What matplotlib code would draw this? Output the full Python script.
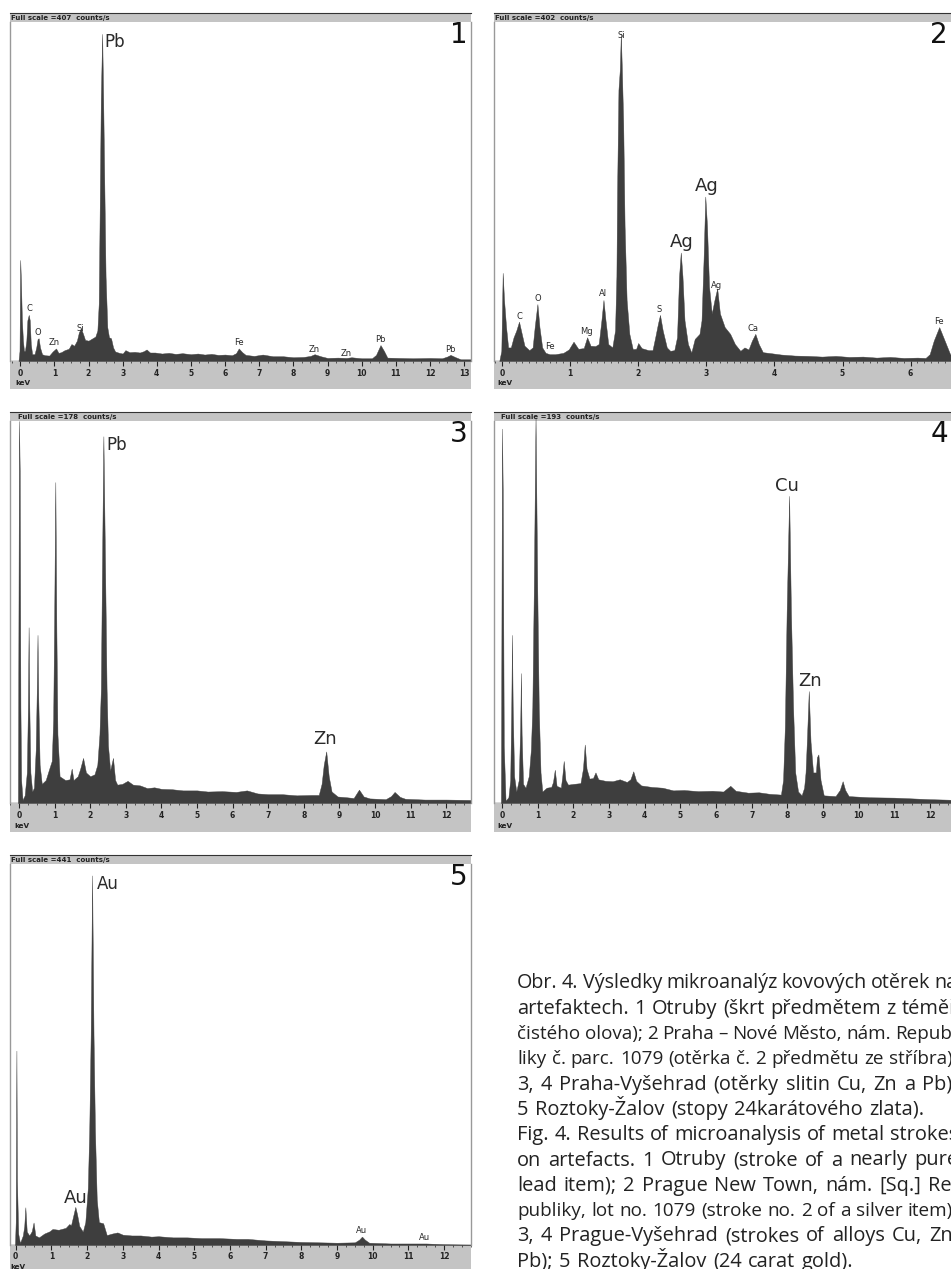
import matplotlib
matplotlib.use("Agg")
import matplotlib.pyplot as plt
from matplotlib.ticker import MultipleLocator

W, H = 951, 1269
DARK = "#3e3e3e"
STRIP = "#c4c4c4"

# spectra: (energy in keV, height in % of full scale)
kev1, pct1 = zip(*[
    (-0.05, 0), (-0.02, 3), (0.0, 29.8), (0.02, 24), (0.05, 12), (0.08, 6), (0.11, 3), (0.14, 3), (0.18, 6), (0.21, 12),
    (0.25, 13.6), (0.28, 12), (0.31, 5), (0.35, 2), (0.42, 2), (0.47, 4), (0.51, 6.5), (0.54, 6.7), (0.58, 4), (0.64, 2),
    (0.72, 1.7), (0.85, 1.6), (0.95, 2.8), (1.05, 3.7), (1.12, 2.4), (1.2, 2.6), (1.3, 3.2), (1.42, 3.6), (1.5, 5), (1.58, 4.5),
    (1.66, 6), (1.72, 8.5), (1.78, 9.6), (1.84, 8), (1.9, 6.2), (2.0, 6), (2.1, 6.6), (2.2, 7.2), (2.26, 9), (2.3, 17),
    (2.33, 47), (2.36, 77), (2.40, 96.5), (2.43, 77), (2.47, 47), (2.5, 25), (2.55, 10), (2.6, 7), (2.66, 6.7), (2.72, 4),
    (2.78, 2.8), (2.9, 2.4), (3.0, 2.2), (3.08, 3.2), (3.2, 2.6), (3.35, 2.7), (3.5, 2.5), (3.62, 2.9), (3.7, 3.4), (3.8, 2.5),
    (3.95, 2.5), (4.15, 2.2), (4.35, 2.4), (4.55, 2.1), (4.75, 2.3), (5.0, 2.0), (5.2, 2.2), (5.4, 1.9), (5.6, 2.1), (5.8, 1.8),
    (6.0, 1.9), (6.2, 1.7), (6.32, 2.3), (6.4, 3.7), (6.5, 2.6), (6.6, 1.8), (6.85, 1.5), (7.1, 1.9), (7.4, 1.4), (7.7, 1.4),
    (8.0, 1.1), (8.3, 1.2), (8.5, 1.5), (8.62, 2), (8.8, 1.4), (9.0, 0.9), (9.3, 1.0), (9.55, 0.9), (9.7, 1.1), (10.0, 0.8),
    (10.3, 0.8), (10.42, 1.8), (10.55, 4.7), (10.65, 3), (10.75, 1), (11.1, 0.9), (11.5, 0.8), (12.0, 0.9), (12.35, 0.8), (12.5, 1.3),
    (12.6, 1.8), (12.75, 1.1), (12.9, 0.5), (13.2, 0.5),
])

kev2, pct2 = zip(*[
    (-0.04, 0), (-0.01, 3), (0.01, 26), (0.03, 18), (0.06, 10), (0.09, 4), (0.13, 4), (0.17, 7), (0.21, 9), (0.25, 11.6),
    (0.29, 8), (0.33, 4.5), (0.4, 3.2), (0.45, 4), (0.48, 10), (0.52, 16.8), (0.55, 10), (0.59, 4), (0.64, 2.4), (0.7, 2),
    (0.78, 2), (0.9, 2.4), (0.98, 3.4), (1.05, 5.7), (1.12, 3.6), (1.2, 3.8), (1.25, 7), (1.3, 4.5), (1.37, 4.4), (1.42, 5),
    (1.46, 12), (1.49, 18), (1.52, 12), (1.56, 5), (1.62, 4), (1.66, 9), (1.68, 25), (1.69, 50), (1.71, 80), (1.73, 86),
    (1.745, 96.6), (1.76, 86), (1.78, 70), (1.8, 40), (1.83, 18), (1.87, 8), (1.92, 3.5), (1.97, 3.6), (2.0, 5.3), (2.05, 3.8),
    (2.15, 3.2), (2.21, 3.2), (2.25, 7), (2.29, 11), (2.32, 13.6), (2.36, 9), (2.42, 4), (2.47, 3), (2.53, 3.2), (2.57, 7),
    (2.6, 25), (2.625, 32), (2.65, 25), (2.68, 12), (2.73, 5), (2.78, 2.5), (2.83, 6.5), (2.9, 8), (2.93, 12), (2.96, 30),
    (2.985, 48.5), (3.01, 40), (3.04, 22), (3.08, 14), (3.12, 18), (3.16, 21.4), (3.2, 14), (3.27, 10), (3.35, 8), (3.42, 5),
    (3.5, 3), (3.56, 4), (3.62, 3.4), (3.67, 6), (3.72, 8), (3.77, 5), (3.83, 2.6), (3.95, 2.3), (4.1, 1.9), (4.3, 1.6),
    (4.5, 1.5), (4.7, 1.3), (4.9, 1.5), (5.1, 1.2), (5.3, 1.3), (5.5, 1.0), (5.7, 1.2), (5.9, 0.9), (6.1, 1.0), (6.22, 0.9),
    (6.28, 2), (6.34, 6), (6.42, 10), (6.5, 6), (6.58, 2), (6.7, 1), (7.0, 0.5),
])

kev3, pct3 = zip(*[
    (-0.03, 0), (0.0, 100), (0.02, 87), (0.04, 25), (0.06, 6), (0.1, 0.8), (0.16, 2), (0.22, 8), (0.25, 25), (0.27, 46),
    (0.29, 25), (0.32, 8), (0.37, 3), (0.42, 4), (0.47, 14), (0.5, 30), (0.52, 44), (0.54, 28), (0.58, 10), (0.64, 5),
    (0.75, 6), (0.85, 9), (0.92, 11), (0.96, 22), (0.99, 50), (1.02, 84), (1.05, 45), (1.08, 18), (1.14, 7), (1.3, 6),
    (1.42, 6.2), (1.48, 9), (1.53, 6), (1.65, 7), (1.72, 9), (1.8, 11.8), (1.88, 8), (2.0, 7), (2.12, 7.5), (2.2, 10),
    (2.26, 18), (2.3, 30), (2.33, 60), (2.37, 96), (2.42, 60), (2.46, 30), (2.5, 15), (2.56, 8.5), (2.64, 11.8), (2.7, 6),
    (2.76, 4.8), (2.9, 5), (3.05, 5.8), (3.2, 4.8), (3.4, 4.6), (3.6, 3.9), (3.8, 4.1), (4.0, 3.7), (4.3, 3.6), (4.6, 3.3),
    (5.0, 3.3), (5.3, 3.0), (5.7, 3.1), (6.1, 2.9), (6.4, 3.3), (6.7, 2.5), (7.0, 2.3), (7.4, 2.3), (7.8, 2), (8.2, 2.1),
    (8.42, 2.1), (8.5, 5), (8.56, 10), (8.63, 13.5), (8.7, 7), (8.78, 3), (8.95, 1.7), (9.2, 1.5), (9.4, 1.3), (9.55, 3.5),
    (9.68, 1.7), (9.85, 1.2), (10.3, 1), (10.45, 1.8), (10.55, 2.9), (10.7, 1.6), (10.85, 1.1), (11.4, 0.9), (12.0, 0.9), (12.7, 0.8),
])

kev4, pct4 = zip(*[
    (-0.03, 0), (0.0, 98), (0.02, 82), (0.05, 15), (0.1, 0.6), (0.18, 1.5), (0.23, 6), (0.26, 25), (0.28, 44), (0.3, 25),
    (0.34, 7), (0.4, 3), (0.47, 6), (0.51, 20), (0.53, 34), (0.55, 18), (0.59, 5), (0.66, 4), (0.75, 7), (0.81, 14),
    (0.85, 25), (0.89, 55), (0.94, 101), (0.99, 55), (1.03, 25), (1.08, 8), (1.13, 3), (1.25, 4), (1.38, 4.2), (1.43, 5.5),
    (1.48, 8.7), (1.53, 4.5), (1.65, 4), (1.69, 7), (1.73, 11), (1.78, 6), (1.85, 4.8), (2.0, 5), (2.2, 5.2), (2.27, 9),
    (2.32, 15.3), (2.37, 9), (2.45, 6.4), (2.55, 6.5), (2.62, 8), (2.7, 6.2), (2.9, 5.8), (3.1, 5.7), (3.3, 6.2), (3.5, 5.5),
    (3.6, 6.2), (3.68, 8.3), (3.76, 5.8), (3.9, 4.6), (4.2, 4.2), (4.5, 4), (4.8, 3.3), (5.1, 3.4), (5.5, 3.1), (5.9, 3.2),
    (6.2, 3), (6.4, 4.5), (6.55, 3.2), (6.9, 2.7), (7.2, 2.8), (7.5, 2.4), (7.82, 2.2), (7.88, 6), (7.93, 20), (7.98, 50),
    (8.05, 80.4), (8.1, 50), (8.16, 25), (8.22, 8), (8.3, 3), (8.4, 2), (8.47, 4), (8.51, 8), (8.55, 17), (8.6, 29.3),
    (8.65, 16), (8.72, 8), (8.8, 8), (8.83, 12), (8.87, 12.7), (8.93, 6), (9.02, 2), (9.35, 1.8), (9.47, 3.4), (9.55, 5.7),
    (9.62, 3.4), (9.72, 1.8), (10.3, 1.5), (11.0, 1.4), (12.0, 1), (12.8, 0.8),
])

kev5, pct5 = zip(*[
    (-0.02, 0), (0.0, 6), (0.02, 51), (0.035, 17), (0.07, 3), (0.12, 0.5), (0.2, 2.5), (0.24, 5), (0.27, 9.9), (0.31, 3.5),
    (0.38, 2.5), (0.45, 3.6), (0.5, 5.9), (0.55, 2.5), (0.65, 2), (0.8, 3), (0.95, 3.6), (1.03, 4.2), (1.2, 4), (1.4, 4.5),
    (1.5, 5.5), (1.55, 5.2), (1.62, 8), (1.67, 10), (1.72, 8), (1.78, 5), (1.88, 3.5), (1.95, 6), (2.02, 15), (2.06, 30),
    (2.1, 55), (2.14, 97), (2.18, 55), (2.22, 30), (2.27, 12), (2.33, 6), (2.45, 5.7), (2.55, 2.6), (2.7, 3), (2.85, 3.3),
    (3.0, 2.7), (3.25, 2.5), (3.5, 2.5), (3.8, 2.2), (4.0, 2.3), (4.4, 2.0), (4.8, 2.0), (5.2, 1.8), (5.7, 1.8), (6.2, 1.6),
    (6.5, 1.6), (7.0, 1.2), (7.5, 1.0), (8.0, 0.8), (8.5, 0.7), (9.0, 0.6), (9.5, 0.7), (9.62, 1.4), (9.7, 2.2), (9.78, 1.4),
    (9.9, 0.6), (10.5, 0.4), (11.5, 0.4), (12.0, 0.2), (12.75, 0.1),
])

# element labels: text, keV, % height, size
labels1 = [("Pb", 2.46, 96.8, 12), ("C", 0.27, 14.2, 6), ("O", 0.53, 7.2, 6), ("Zn", 1.0, 4, 6), ("Si", 1.76, 8.2, 6),
           ("Fe", 6.4, 4, 6), ("Zn", 8.6, 2.2, 6), ("Zn", 9.55, 1, 6), ("Pb", 10.55, 5.1, 6), ("Pb", 12.6, 2, 6)]
labels2 = [("Si", 1.75, 94.8, 6), ("Ag", 3.0, 49, 13), ("Ag", 2.64, 32.5, 13), ("Ag", 3.15, 21, 6), ("O", 0.52, 17, 6),
           ("C", 0.26, 11.8, 6), ("Al", 1.48, 18.6, 6), ("Mg", 1.24, 7.4, 6), ("Fe", 0.7, 3, 6), ("S", 2.31, 13.8, 6),
           ("Ca", 3.68, 8.4, 6), ("Fe", 6.42, 10.4, 6)]
labels3 = [("Pb", 2.46, 96, 12), ("Zn", 8.6, 14.5, 13)]
labels4 = [("Cu", 8.0, 80.5, 13), ("Zn", 8.65, 29.5, 13)]
labels5 = [("Au", 2.27, 97, 12), ("Au", 1.68, 10, 13), ("Au", 9.7, 2.5, 6), ("Au", 11.45, 0.8, 6)]

caption = [
    "Obr. 4. Výsledky mikroanalýz kovových otěrek na",
    "artefaktech. 1 Otruby (škrt předmětem z téměř",
    "čistého olova); 2 Praha – Nové Město, nám. Repub-",
    "liky č. parc. 1079 (otěrka č. 2 předmětu ze stříbra);",
    "3, 4 Praha-Vyšehrad (otěrky slitin Cu, Zn a Pb);",
    "5 Roztoky-Žalov (stopy 24karátového zlata).",
    "Fig. 4. Results of microanalysis of metal strokes",
    "on artefacts. 1 Otruby (stroke of a nearly pure",
    "lead item); 2 Prague New Town, nám. [Sq.] Re-",
    "publiky, lot no. 1079 (stroke no. 2 of a silver item);",
    "3, 4 Prague-Vyšehrad (strokes of alloys Cu, Zn,",
    "Pb); 5 Roztoky-Žalov (24 carat gold).",
]
# the set is condensed on some lines and loose on the others
caption_sizes = [14.2, 14.4, 13.6, 13.6, 14.4, 14.4, 14.4, 14.4, 14.4, 13.6, 14.4, 14.4]
# lines that end a paragraph are set with plain word spaces
last_lines = [5, 11]

fig = plt.figure(figsize=(W / 100, H / 100), dpi=100, facecolor="white")
plt.rcParams["font.family"] = "DejaVu Sans"


def ax_px(x0, y0, x1, y1):
    return fig.add_axes([x0 / W, 1 - y1 / H, (x1 - x0) / W, (y1 - y0) / H])


def panel(box, zero, per_kev, kev, pct, labels, title, title_x, num, max_tick, minor=0.25):
    x0, y_top, y_base, x1, y_bottom = box
    xlim = ((x0 - zero) / per_kev, (x1 - zero) / per_kev)

    # title bar
    bar = ax_px(x0, y_top, x1, y_top + 9)
    bar.set_facecolor(STRIP)
    bar.set_xticks([])
    bar.set_yticks([])
    for s in bar.spines.values():
        s.set_visible(False)
    bar.spines["top"].set_visible(True)
    bar.spines["top"].set_color("#333333")
    bar.text(title_x, 0.48, title, transform=bar.transAxes, fontsize=5, fontweight="bold",
             color="#222222", va="center", ha="left")

    # gray strip under the spectrum
    strip = ax_px(x0, y_base, x1, y_bottom)
    strip.set_facecolor(STRIP)
    strip.set_xlim(xlim)
    strip.set_yticks([])
    strip.xaxis.set_ticks_position("top")
    strip.xaxis.set_major_locator(MultipleLocator(1))
    strip.xaxis.set_minor_locator(MultipleLocator(minor))
    strip.tick_params(axis="x", which="major", direction="in", length=3.5, width=0.8, color="#222222",
                      labeltop=False, labelbottom=False)
    strip.tick_params(axis="x", which="minor", direction="in", length=1.5, width=0.5, color="#222222")
    for s in strip.spines.values():
        s.set_visible(False)
    for t in range(0, max_tick + 1):
        strip.text(t, 0.56, str(t), transform=strip.get_xaxis_transform(), fontsize=5.5, fontweight="bold",
                   color="#222222", ha="center", va="center", clip_on=True)
    strip.text((zero - x0 - 5) / (x1 - x0), 0.2, "keV", transform=strip.transAxes, fontsize=5.2,
               fontweight="bold", color="#222222", ha="left", va="center")

    # spectrum
    ax = ax_px(x0, y_top + 9, x1, y_base)
    ax.set_xlim(xlim)
    ax.set_ylim(0, 100)
    ax.set_xticks([])
    ax.set_yticks([])
    ax.patch.set_alpha(0)
    ax.fill_between(kev, 0, pct, color=DARK, lw=0.3, clip_on=False)
    ax.axhline(0, color=DARK, lw=1)
    for s in ax.spines.values():
        s.set_color("#999999")
        s.set_linewidth(1)
    ax.spines["top"].set_visible(False)
    ax.spines["bottom"].set_visible(False)
    for name, x, y, size in labels:
        ax.text(x, y, name, fontsize=size, color="#2a2a2a",
                ha="left" if size == 12 else "center", va="top" if size == 12 else "bottom")
    fig.text((min(x1, W) - 3) / W, 1 - (y_top + 22) / H, num, fontsize=20, color="#111111", ha="right", va="center")


panel((10, 13, 361, 471, 389), 20.2, 34.15, kev1, pct1, labels1, "Full scale =407  counts/s", 0.003, "1", 13)
panel((494, 13, 361, 960, 389), 502, 68.1, kev2, pct2, labels2, "Full scale =402  counts/s", 0.003, "2", 6, minor=0.1)
panel((10, 412, 803, 471, 832), 19, 35.6, kev3, pct3, labels3, "Full scale =178  counts/s", 0.018, "3", 12)
panel((494, 412, 803, 960, 832), 502, 35.67, kev4, pct4, labels4, "Full scale =193  counts/s", 0.016, "4", 12)
panel((10, 855, 1245, 471, 1272), 15.7, 35.7, kev5, pct5, labels5, "Full scale =441  counts/s", 0.003, "5", 12)

# caption, justified word by word to the column edge
LEFT, RIGHT = 517, 958
renderer = fig.canvas.get_renderer()
for i, line in enumerate(caption):
    y = 1 - (988.4 + 25.3 * i) / H
    words = [fig.text(0, y, w, family="Open Sans", fontsize=caption_sizes[i], color="#222222", ha="left", va="baseline")
             for w in line.split()]
    widths = [w.get_window_extent(renderer).width for w in words]
    gap = 6.5 if i in last_lines else (RIGHT - LEFT - sum(widths)) / (len(words) - 1)
    x = LEFT
    for w, width in zip(words, widths):
        w.set_x(x / W)
        x += width + gap

fig.savefig("out.png", dpi=100)
